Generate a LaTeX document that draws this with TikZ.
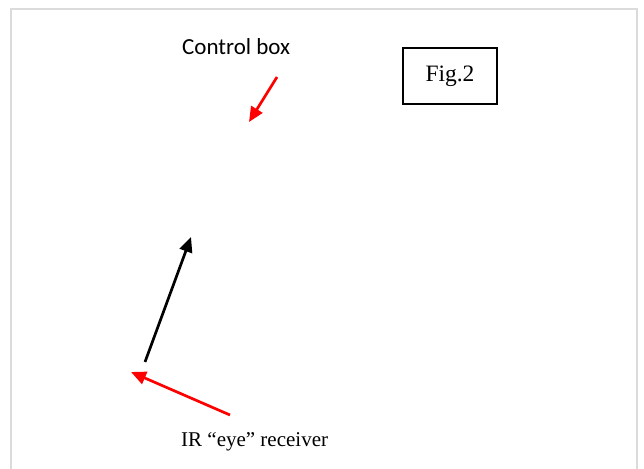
\documentclass[tikz,border=0pt]{standalone}
\usepackage{fontspec}
\setmainfont{Liberation Serif}
\newfontfamily\calibri{Carlito}
\usetikzlibrary{arrows.meta}

\begin{document}
\begin{tikzpicture}[x=1pt, y=-1pt, inner sep=0pt,
    punta/.style={-{Triangle[length=15pt,width=13pt]}, line width=2.7pt},
    flecharoja/.style={punta, red},
    flechanegra/.style={punta, black}]
    \useasboundingbox (0,0) rectangle (644,468);
    % Marco
    \draw[line width=1.8pt, gray!28] (11,475) -- (11,9) -- (637,9) -- (637,475);
    % Etiquetas
    \node[anchor=base west, font=\calibri\fontsize{23}{28}\selectfont] (caja) at (182,55) {Control box};
    \node[draw, line width=1.1pt, minimum width=94pt, minimum height=56pt,
          font=\fontsize{23.5}{28}\selectfont] (fig) at (450,76) {Fig.2};
    \node[anchor=base west, font=\fontsize{21}{26}\selectfont] (ojo) at (181,446) {IR “eye” receiver};
    % Flechas
    \coordinate (c1) at (277,77);   \coordinate (c2) at (249,122);
    \coordinate (n1) at (145,362);  \coordinate (n2) at (191,237);
    \coordinate (r1) at (230,415);  \coordinate (r2) at (131,372);
    \draw[flecharoja] (c1) -- (c2);
    \draw[flechanegra] (n1) -- (n2);
    \draw[flecharoja] (r1) -- (r2);
\end{tikzpicture}
\end{document}
